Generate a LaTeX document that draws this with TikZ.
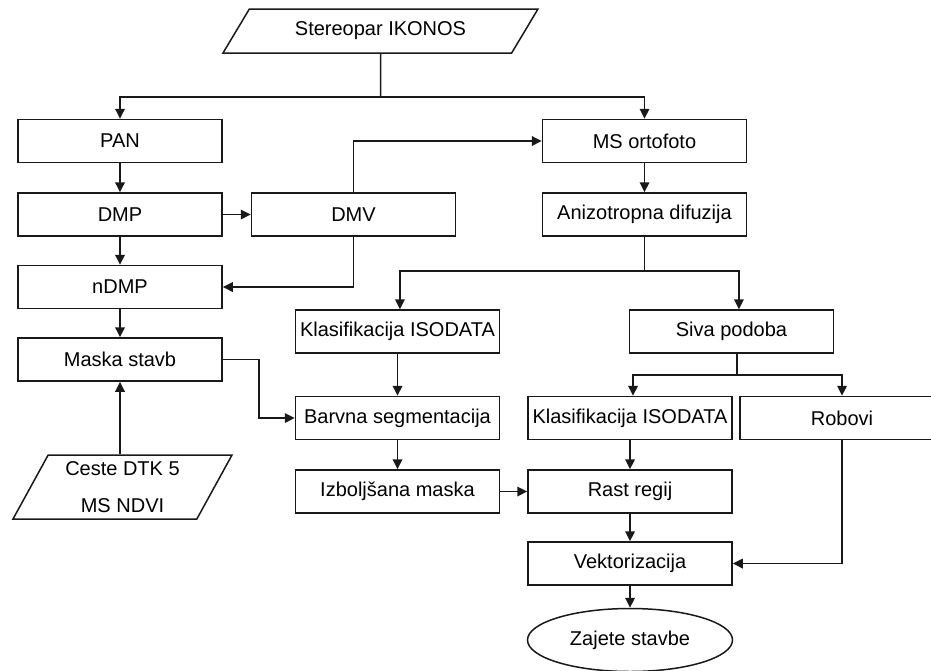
\documentclass[tikz,border=0pt]{standalone}
\usepackage{fontspec}
\setmainfont{Liberation Sans}
\usepackage{tikz}
\usetikzlibrary{positioning,arrows.meta,shapes.geometric}
\definecolor{flowline}{RGB}{25,25,25}

\begin{document}
\begin{tikzpicture}[
  x=0.5pt,y=-0.5pt,
  >={Triangle[length=5pt,width=4.8pt]},
  proc/.style={draw=flowline,line width=0.75pt,fill=white,inner sep=0pt,align=center,font=\fontsize{10}{12}\selectfont,minimum width=102pt,minimum height=21.5pt},
  inbox/.style={trapezium,draw=flowline,line width=0.75pt,fill=white,inner sep=0pt,align=center,font=\fontsize{10}{18.5}\selectfont,trapezium stretches body},
  outbox/.style={ellipse,draw=flowline,line width=0.75pt,fill=white,inner sep=0pt,font=\fontsize{10}{12}\selectfont,minimum width=102.5pt,minimum height=31.5pt},
  ar/.style={->,line width=0.75pt,flowline},
  ln/.style={line width=0.75pt,flowline}
]
\useasboundingbox (0,0) rectangle (931,670);
\clip (0,0) rectangle (931,670);

% TOP: input stereo pair
\node[inbox,trapezium left angle=34.5,trapezium right angle=145.5,minimum width=157.5pt,minimum height=22pt] (stereo) at (380.5,31) {Stereopar IKONOS};
\coordinate (split1) at (380.5,97);

% LEFT column: panchromatic branch
\node[proc] (pan)   at (120,141)   {PAN};
\node[proc] (dmp)   at (120,214.5) {DMP};
\node[proc] (dmv)   at (353.5,214.5) {DMV};
\node[proc] (ndmp)  at (120,287)   {nDMP};
\node[proc] (maska) at (120,359.5) {Maska stavb};
\node[inbox,trapezium left angle=55.5,trapezium right angle=124.5,minimum width=109.5pt,minimum height=32pt] (ceste) at (122.5,487) {Ceste DTK 5\\MS NDVI};

% RIGHT column: multispectral branch
\node[proc] (ortho) at (644.5,141)   {MS ortofoto};
\node[proc] (aniz)  at (644.5,214.5) {Anizotropna difuzija};
\coordinate (split2) at (644.5,271);

% MIDDLE: colour segmentation
\node[proc] (klas)  at (397.5,331.5) {Klasifikacija ISODATA};
\node[proc] (barv)  at (397.5,418)   {Barvna segmentacija};
\node[proc] (izbol) at (397.5,491.5) {Izboljšana maska};

% LOWER RIGHT: grey image, region growing
\node[proc] (siva)   at (731.5,331.5) {Siva podoba};
\coordinate (split3) at (737,375);
\node[proc] (klas2)  at (630,418)   {Klasifikacija ISODATA};
\node[proc] (robovi) at (842,418)   {Robovi};
\node[proc] (rast)   at (630,491.5) {Rast regij};
\node[proc] (vekt)   at (630,563.5) {Vektorizacija};
\node[outbox] (zajete) at (630,640) {Zajete stavbe};

\draw[ln] (stereo.south) -- (split1);
\draw[ar] (split1) -| (pan.north);
\draw[ar] (split1) -| (ortho.north);

\draw[ar] (pan) -- (dmp);
\draw[ar] (dmp) -- (ndmp);
\draw[ar] (ndmp) -- (maska);
\draw[ar] (dmp) -- (dmv);
\draw[ar] (dmv.north) |- (ortho.west);
\draw[ar] (dmv.south) |- (ndmp.east);
\draw[ar] (ceste.north -| maska.south) -- (maska.south);

\draw[ar] (ortho) -- (aniz);
\draw[ln] (aniz.south) -- (split2);
\draw[ar] (split2) -| ([xshift=1.2pt]klas.north);
\draw[ar] (split2) -| ([xshift=3.7pt]siva.north);

\draw[ar] (klas) -- (barv);
\draw[ar] (barv) -- (izbol);
\draw[ar] (maska.east) -- ++(36,0) |- (barv.west);
\draw[ar] (izbol) -- (rast);

\draw[ln] (split3 |- siva.south) -- (split3);
\draw[ar] (split3) -| ([xshift=1.5pt]klas2.north);
\draw[ar] (split3) -| (robovi.north);
\draw[ar] (klas2.south) -- (rast.north);
\draw[ar] (rast) -- (vekt);
\draw[ar] (vekt) -- (zajete);
\draw[ar] (robovi.south) |- (vekt.east);

\end{tikzpicture}
\end{document}
